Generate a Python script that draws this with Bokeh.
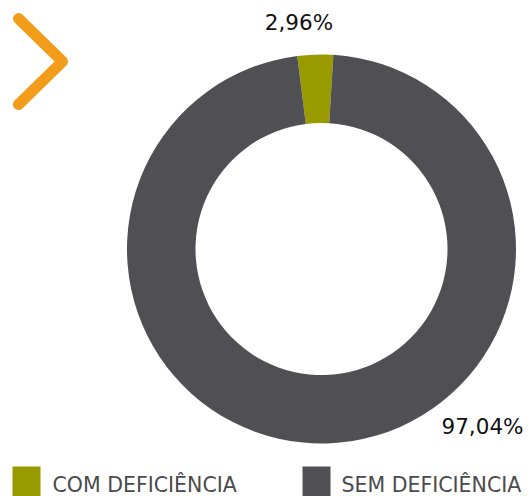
from bokeh.plotting import figure
from bokeh.models import Range1d, ColumnDataSource
from bokeh.core.properties import value
from bokeh.embed import file_html
from bokeh.resources import INLINE
import math

categories = ["COM DEFICIÊNCIA", "SEM DEFICIÊNCIA"]
values = [2.96, 97.04]
labels = ["2,96%", "97,04%"]
colors = ["#999900", "#4f4f54"]

W, H = 531, 496
p = figure(width=W, height=H, output_backend="svg", toolbar_location=None,
           x_range=Range1d(0, W), y_range=Range1d(0, H), min_border=0)
p.axis.visible = False
p.grid.visible = False
p.outline_line_color = None
p.background_fill_color = "white"

def sx(x):
    return x

def sy(y):
    return H - y

# donut
cx, cy = sx(321), sy(248.5)
start0 = math.radians(86.5)
total = sum(values)
starts, ends = [], []
acc = start0
for v in values:
    starts.append(acc)
    acc += v / total * 2 * math.pi
    ends.append(acc)
src = ColumnDataSource(dict(start=starts, end=ends, color=colors))
p.annular_wedge(x=cx, y=cy, inner_radius=126, outer_radius=194.5,
                start_angle="start", end_angle="end", fill_color="color",
                line_color=None, source=src)

# value labels
lx = [sx(298.5), sx(482)]
ly = [sy(21.5), sy(425.5)]
p.text(x=lx, y=ly, text=labels, text_align="center", text_baseline="middle",
       text_font=value("DejaVu Sans"), text_font_size="21.5px", text_color="#111111")

# chevron
p.line(x=[sx(18), sx(62), sx(18)], y=[sy(18), sy(61), sy(104)], line_color="#f39c19",
       line_width=11, line_cap="round", line_join="round")

# legend
leg_x = [sx(12), sx(302)]
p.quad(left=leg_x, right=[x + 28 for x in leg_x], top=[sy(466)] * 2, bottom=[sy(496)] * 2,
       fill_color=colors, line_color=None)
p.text(x=[sx(52), sx(341)], y=[sy(484)] * 2, text=categories, text_align="left",
       text_baseline="middle", text_font=value("DejaVu Sans"),
       text_font_size="20.5px", text_color="#4a4a4a")

open("out.html", "w").write(file_html(p, INLINE))
